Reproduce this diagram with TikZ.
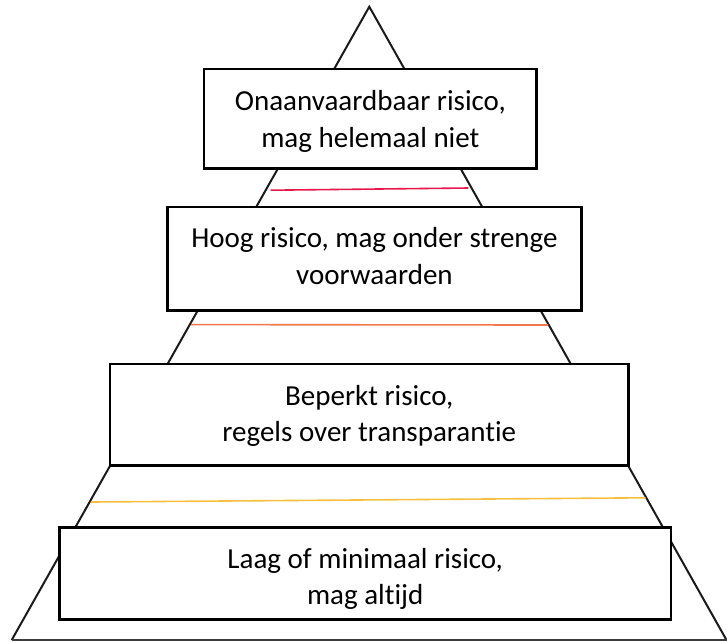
\documentclass[tikz,border=0pt]{standalone}
\usepackage{fontspec}
\setmainfont{Carlito}[Ligatures={NoCommon,NoContextual}]
\definecolor{triline}{HTML}{1A1A1A}
\definecolor{baseline}{HTML}{3C3C3C}
\definecolor{pinkline}{HTML}{E8174B}
\definecolor{orangeline}{HTML}{F2784B}
\definecolor{yellowline}{HTML}{F8BF3F}
\begin{document}
\begin{tikzpicture}[x=1pt,y=-1pt,
  box/.style={draw=black,line width=2.5pt,fill=white,inner sep=0pt,rectangle},
  lbl/.style={anchor=base,inner sep=0pt,font=\fontsize{29}{36.5}\selectfont},
  side/.style={draw=triline,line width=2pt,line join=miter},
  band/.style={line width=1.6pt}]
\useasboundingbox (0,0) rectangle (727,641);
% pyramid outline
\coordinate (apex) at (369.3,6.7);
\coordinate (bl) at (11.7,640);
\coordinate (br) at (726.5,640);
\draw[side] (bl) -- (apex) -- (br);
\draw[line width=1.5pt,draw=baseline] (bl) -- (br);
% coloured bands
\coordinate (p1) at (270.7,190.2);
\coordinate (p2) at (468.3,188);
\coordinate (o1) at (191,324.6);
\coordinate (o2) at (548,325);
\coordinate (y1) at (91,502);
\coordinate (y2) at (645.5,497.8);
\draw[band,pinkline] (p1) -- (p2);
\draw[band,orangeline] (o1) -- (o2);
\draw[band,yellowline] (y1) -- (y2);
% boxes
\node[box,minimum width=332.7pt,minimum height=99.3pt] (b1) at (370.35,118.65) {};
\node[box,minimum width=414.2pt,minimum height=103.5pt] (b2) at (374.4,258.75) {};
\node[box,minimum width=518.5pt,minimum height=101.5pt] (b3) at (369.25,414.75) {};
\node[box,minimum width=611.5pt,minimum height=91.8pt] (b4) at (365.25,573.6) {};
% texts
\node[lbl] (t1) at (370.35,110.7) {\begin{tabular}[t]{@{}c@{}}Onaanvaardbaar risico,\\mag helemaal niet\end{tabular}};
\node[lbl] (t2) at (374.4,247.8) {\begin{tabular}[t]{@{}c@{}}Hoog risico, mag onder strenge\\voorwaarden\end{tabular}};
\node[lbl] (t3) at (369.25,405) {\begin{tabular}[t]{@{}c@{}}Beperkt risico,\\regels over transparantie\end{tabular}};
\begin{scope}
\clip (59.5,527.7) rectangle (671,609.5);
\node[lbl] (t4) at (365.25,568) {\begin{tabular}[t]{@{}c@{}}Laag of minimaal risico,\\mag altijd\end{tabular}};
\end{scope}
\end{tikzpicture}
\end{document}
